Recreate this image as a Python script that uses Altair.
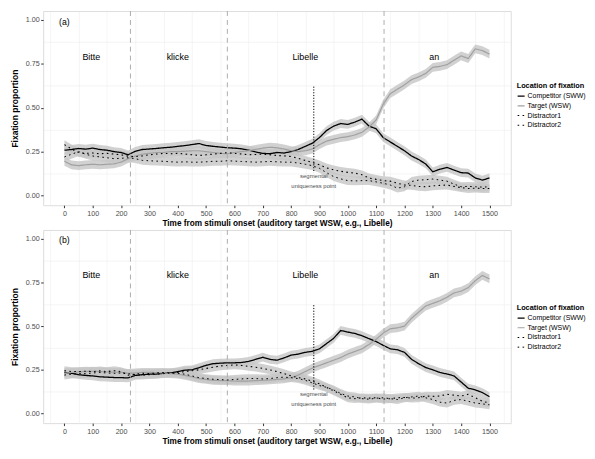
import altair as alt
import pandas as pd

time_ms = list(range(0, 1501, 25))
series_names = ["Competitor (SWW)", "Target (WSW)", "Distractor1", "Distractor2"]

# ---- panel (a) ----
comp_a = [0.258, 0.262, 0.268, 0.264, 0.270, 0.262, 0.258, 0.250, 0.245, 0.232,
          0.252, 0.262, 0.265, 0.268, 0.272, 0.275, 0.280, 0.284, 0.290, 0.296,
          0.285, 0.280, 0.276, 0.272, 0.270, 0.266, 0.258, 0.248, 0.240, 0.238,
          0.245, 0.242, 0.250, 0.262, 0.280, 0.298, 0.330, 0.370, 0.395, 0.410,
          0.405, 0.418, 0.435, 0.395, 0.380, 0.330, 0.305, 0.280, 0.255, 0.225,
          0.205, 0.180, 0.135, 0.150, 0.160, 0.145, 0.130, 0.128, 0.100, 0.088,
          0.100]
targ_a = [0.195, 0.175, 0.170, 0.175, 0.178, 0.175, 0.178, 0.180, 0.190, 0.210,
          0.225, 0.235, 0.240, 0.245, 0.245, 0.250, 0.250, 0.252, 0.255, 0.255,
          0.250, 0.245, 0.240, 0.238, 0.245, 0.250, 0.255, 0.262, 0.270, 0.275,
          0.272, 0.265, 0.255, 0.250, 0.255, 0.265, 0.290, 0.310, 0.320, 0.330,
          0.335, 0.345, 0.360, 0.390, 0.430, 0.520, 0.580, 0.605, 0.630, 0.660,
          0.675, 0.695, 0.730, 0.735, 0.745, 0.770, 0.795, 0.780, 0.835, 0.825,
          0.805]
d1_a = [0.290, 0.265, 0.245, 0.240, 0.242, 0.238, 0.240, 0.236, 0.232, 0.224,
        0.222, 0.226, 0.232, 0.236, 0.240, 0.238, 0.240, 0.236, 0.232, 0.228,
        0.232, 0.236, 0.240, 0.244, 0.240, 0.236, 0.232, 0.234, 0.236, 0.232,
        0.228, 0.226, 0.222, 0.212, 0.200, 0.188, 0.175, 0.158, 0.146, 0.138,
        0.132, 0.128, 0.118, 0.100, 0.092, 0.085, 0.082, 0.070, 0.060, 0.058,
        0.052, 0.050, 0.055, 0.058, 0.060, 0.052, 0.045, 0.040, 0.042, 0.040,
        0.040]
d2_a = [0.220, 0.235, 0.250, 0.235, 0.225, 0.220, 0.215, 0.210, 0.212, 0.215,
        0.210, 0.200, 0.198, 0.196, 0.195, 0.192, 0.190, 0.192, 0.190, 0.190,
        0.192, 0.195, 0.195, 0.198, 0.196, 0.194, 0.192, 0.190, 0.192, 0.194,
        0.192, 0.190, 0.190, 0.185, 0.178, 0.170, 0.155, 0.130, 0.108, 0.095,
        0.085, 0.083, 0.085, 0.085, 0.078, 0.070, 0.060, 0.042, 0.050, 0.080,
        0.088, 0.090, 0.094, 0.088, 0.082, 0.065, 0.050, 0.052, 0.050, 0.048,
        0.050]

# ---- panel (b) ----
comp_b = [0.235, 0.230, 0.222, 0.218, 0.215, 0.210, 0.208, 0.206, 0.205, 0.204,
          0.218, 0.222, 0.225, 0.226, 0.230, 0.232, 0.240, 0.248, 0.250, 0.262,
          0.276, 0.285, 0.288, 0.290, 0.290, 0.292, 0.298, 0.310, 0.322, 0.310,
          0.305, 0.318, 0.334, 0.340, 0.350, 0.356, 0.370, 0.400, 0.430, 0.475,
          0.466, 0.458, 0.445, 0.428, 0.412, 0.390, 0.370, 0.365, 0.350, 0.310,
          0.285, 0.263, 0.250, 0.235, 0.226, 0.215, 0.180, 0.145, 0.135, 0.120,
          0.096]
targ_b = [0.230, 0.235, 0.238, 0.240, 0.242, 0.240, 0.238, 0.236, 0.236, 0.230,
          0.232, 0.235, 0.236, 0.234, 0.232, 0.228, 0.225, 0.218, 0.210, 0.200,
          0.195, 0.190, 0.188, 0.188, 0.186, 0.185, 0.186, 0.188, 0.190, 0.192,
          0.195, 0.198, 0.205, 0.220, 0.240, 0.260, 0.275, 0.290, 0.305, 0.320,
          0.340, 0.355, 0.370, 0.395, 0.425, 0.460, 0.485, 0.490, 0.500, 0.545,
          0.580, 0.615, 0.630, 0.645, 0.665, 0.690, 0.700, 0.720, 0.760, 0.790,
          0.770]
d1_b = [0.245, 0.240, 0.240, 0.242, 0.240, 0.244, 0.240, 0.245, 0.240, 0.220,
        0.225, 0.230, 0.228, 0.232, 0.235, 0.232, 0.235, 0.240, 0.245, 0.250,
        0.258, 0.265, 0.272, 0.275, 0.278, 0.275, 0.270, 0.265, 0.258, 0.250,
        0.240, 0.228, 0.215, 0.205, 0.198, 0.185, 0.170, 0.150, 0.130, 0.110,
        0.090, 0.085, 0.090, 0.088, 0.090, 0.082, 0.085, 0.090, 0.092, 0.088,
        0.090, 0.100, 0.098, 0.100, 0.110, 0.105, 0.100, 0.110, 0.090, 0.070,
        0.060]
d2_b = [0.220, 0.225, 0.230, 0.228, 0.232, 0.235, 0.232, 0.230, 0.232, 0.228,
        0.222, 0.220, 0.222, 0.225, 0.228, 0.232, 0.230, 0.225, 0.215, 0.205,
        0.200, 0.196, 0.194, 0.192, 0.195, 0.198, 0.200, 0.200, 0.198, 0.200,
        0.205, 0.208, 0.205, 0.200, 0.190, 0.175, 0.160, 0.150, 0.135, 0.115,
        0.100, 0.095, 0.085, 0.082, 0.088, 0.090, 0.085, 0.080, 0.090, 0.095,
        0.100, 0.090, 0.080, 0.065, 0.060, 0.075, 0.080, 0.070, 0.060, 0.055,
        0.050]

ci_half = 0.025  # half width of the confidence ribbon

word_labels = ["Bitte", "klicke", "Libelle", "an"]
word_time = [95, 400, 850, 1305]
word_level = 0.79
boundaries = [233, 575, 1128]
uniq_time = 880
uniq_top = 0.62
uniq_bottom = 0.13
uniq_text = ["segmental", "uniqueness point"]
uniq_text_y = [0.11, 0.057]

x_major = list(range(0, 1501, 100))
x_minor = list(range(-50, 1551, 100))
y_major = [0, 0.25, 0.5, 0.75, 1.0]
y_minor = [0.125, 0.375, 0.625, 0.875]

FONT = "Liberation Sans"
X_TITLE = "Time from stimuli onset (auditory target WSW, e.g., Libelle)"


def long_frame(vals):
    rows = []
    for name, arr in zip(series_names, vals):
        for t, v in zip(time_ms, arr):
            rows.append({"series": name, "t": t, "v": v,
                         "lo": v - ci_half, "hi": v + ci_half})
    return pd.DataFrame(rows)


x_axis = alt.Axis(
    orient="bottom", values=x_major, format="d", labelOverlap=False, labelFlush=False,
    gridColor="#ebebeb", gridWidth=1,
    tickColor="#333333", tickSize=2.5, domain=False,
    labelFont=FONT, labelFontSize=7.2, labelColor="#4d4d4d", labelPadding=1.5,
    titleFont=FONT, titleFontSize=8.3, titleFontWeight="bold", titleColor="black",
    titlePadding=2,
)
x_axis_minor = alt.Axis(
    orient="bottom", values=x_minor, labels=False, ticks=False, domain=False, title=None,
    gridColor="#ebebeb", gridWidth=0.5,
)
y_axis = alt.Axis(
    orient="left", values=y_major, format=".2f", labelOverlap=False,
    gridColor="#ebebeb", gridWidth=1,
    tickColor="#333333", tickSize=2.5, domain=False,
    labelFont=FONT, labelFontSize=7.2, labelColor="#4d4d4d", labelPadding=1.5,
    titleFont=FONT, titleFontSize=8.6, titleFontWeight="bold", titleColor="black",
    titlePadding=6,
)
y_axis_minor = alt.Axis(
    orient="left", values=y_minor, labels=False, ticks=False, domain=False, title=None,
    gridColor="#ebebeb", gridWidth=0.5,
)

x_scale = alt.Scale(domain=[-75, 1575], nice=False, zero=False)
y_scale = alt.Scale(domain=[-0.055, 1.05], nice=False, zero=False)


def make_legend(ly):
    return alt.Legend(
        title="Location of fixation", orient="none", legendX=478, legendY=ly,
        titleFont=FONT, titleFontSize=7.4, titleFontWeight="bold", titleColor="black",
        titlePadding=2, labelFont=FONT, labelFontSize=7.0, labelColor="black",
        labelOffset=2, symbolType="stroke", symbolSize=50, rowPadding=1.8,
        padding=0, labelLimit=200,
    )


def panel(tag, vals, h, ly):
    legend = make_legend(ly)
    df = long_frame(vals)
    base = alt.Chart(df)
    # minor grid only (own axes)
    grid_minor = alt.Chart(pd.DataFrame({"t": [0], "v": [0]})).mark_point(opacity=0).encode(
        x=alt.X("t:Q", scale=x_scale, axis=x_axis_minor),
        y=alt.Y("v:Q", scale=y_scale, axis=y_axis_minor),
    )
    band = base.mark_area(color="#c6c6c6", opacity=0.8).encode(
        x=alt.X("t:Q", scale=x_scale, axis=x_axis, title=X_TITLE),
        y=alt.Y("lo:Q", scale=y_scale, axis=y_axis, title="Fixation proportion"),
        y2="hi:Q",
        detail="series:N",
    )
    lines = base.mark_line(interpolate="linear").encode(
        x=alt.X("t:Q", axis=None),
        y=alt.Y("v:Q", axis=None),
        color=alt.Color("series:N", scale=alt.Scale(domain=series_names,
                        range=["#000000", "#a0a0a0", "#000000", "#000000"]), legend=legend),
        strokeDash=alt.StrokeDash("series:N", scale=alt.Scale(domain=series_names,
                        range=[[1, 0], [1, 0], [1.6, 3.4], [1.6, 3.4]]), legend=legend),
        strokeWidth=alt.StrokeWidth("series:N", scale=alt.Scale(domain=series_names,
                        range=[1.3, 1.0, 1.6, 1.6]), legend=legend),
    )
    vlines = alt.Chart(pd.DataFrame({"t": boundaries})).mark_rule(
        color="#adadad", strokeDash=[5, 4], strokeWidth=1).encode(x=alt.X("t:Q", axis=None))
    seg = alt.Chart(pd.DataFrame({"t": [uniq_time], "y1": [uniq_top], "y2": [uniq_bottom]})).mark_rule(
        color="black", strokeDash=[1.2, 1.6], strokeWidth=1).encode(
        x=alt.X("t:Q", axis=None), y=alt.Y("y1:Q", axis=None), y2="y2:Q")
    words = alt.Chart(pd.DataFrame({"t": word_time, "y": [word_level] * 4, "w": word_labels})).mark_text(
        font=FONT, fontSize=9, color="black").encode(
        x=alt.X("t:Q", axis=None), y=alt.Y("y:Q", axis=None), text="w:N")
    tagtxt = alt.Chart(pd.DataFrame({"t": [0], "y": [0.99], "w": [tag]})).mark_text(
        font=FONT, fontSize=8.8, color="black").encode(
        x=alt.X("t:Q", axis=None), y=alt.Y("y:Q", axis=None), text="w:N")
    utext = alt.Chart(pd.DataFrame({"t": [uniq_time] * 2, "y": uniq_text_y, "w": uniq_text})).mark_text(
        font=FONT, fontSize=6, color="#4d4d4d").encode(
        x=alt.X("t:Q", axis=None), y=alt.Y("y:Q", axis=None), text="w:N")
    return alt.layer(grid_minor, band, lines, vlines, seg, words, tagtxt, utext).resolve_axis(
        x="independent", y="independent").properties(width=472, height=h)


pa = panel("(a)", [comp_a, targ_a, d1_a, d2_a], 196, 72)
pb = panel("(b)", [comp_b, targ_b, d1_b, d2_b], 195, 75)

chart = alt.vconcat(pa, pb, spacing=2).resolve_legend(
    color="independent", strokeDash="independent", strokeWidth="independent"
).properties(
    padding={"left": 1.5, "top": 0, "right": 0, "bottom": 0},
).configure_view(stroke="#555555", strokeWidth=1).configure(background="white")

chart.save("out.html", embed_options={"renderer": "svg", "actions": False})
